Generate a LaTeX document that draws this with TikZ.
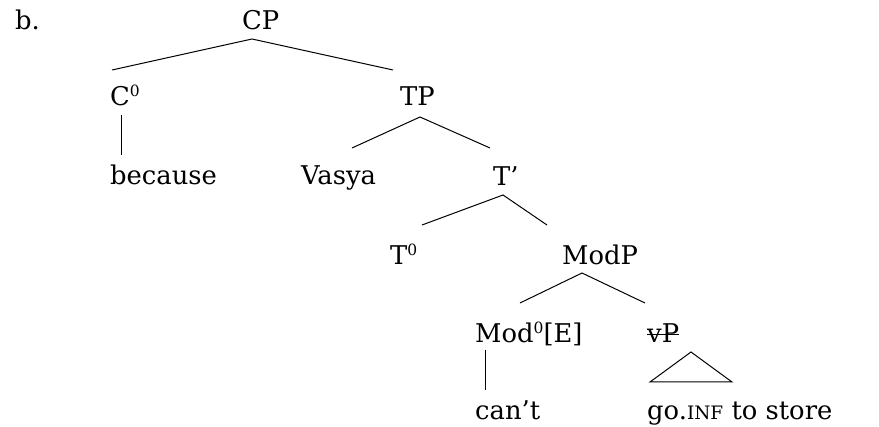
\documentclass[tikz,border=0pt]{standalone}
\usepackage{fontspec}
\setmainfont{DejaVu Serif}
\newcommand{\zsup}[1]{\raisebox{0.36em}{\fontsize{15.5}{15.5}\selectfont #1}}
\newcommand{\glosscaps}[1]{{\fontsize{18.5}{18.5}\selectfont #1}}
\begin{document}
\begin{tikzpicture}[x=1pt,y=-1pt,
  lab/.style={anchor=base west,inner sep=0pt,font=\fontsize{25.8}{25.8}\selectfont},
  branch/.style={line width=1pt,line join=miter}]
\useasboundingbox (0,0) rectangle (879,427);
% labels
\node[lab] (ex)    at (15,30)  {b.};
\node[lab] (cp)    at (242,30) {CP};
\node[lab] (c0)    at (110,106) {C\zsup{0}};
\node[lab] (tp)    at (400,106) {TP};
\node[lab] (bec)   at (110,185) {because};
\node[lab] (vasya) at (301,185) {Vasya};
\node[lab] (tbar)  at (493,186) {T’};
\node[lab] (t0)    at (390,265) {T\zsup{0}};
\node[lab] (modp)  at (562,265) {ModP};
\node[lab] (mod0)  at (475,343) {Mod\zsup{0}[E]};
\node[lab] (vp)    at (647,343) {vP};
\node[lab] (cant)  at (475,420) {can’t};
\node[lab] (go)    at (647,420) {go.\glosscaps{INF} to store};
% branch end points
\coordinate (cpA) at (252,39);  \coordinate (cpL) at (112,70);  \coordinate (cpR) at (393,70);
\coordinate (c0A) at (121,115); \coordinate (c0B) at (121,155);
\coordinate (tpA) at (420,117); \coordinate (tpL) at (352,148); \coordinate (tpR) at (490,148);
\coordinate (tbA) at (503,195); \coordinate (tbL) at (422,225); \coordinate (tbR) at (547,225);
\coordinate (mpA) at (582,273); \coordinate (mpL) at (520,303); \coordinate (mpR) at (645,303);
\coordinate (mdA) at (485,350); \coordinate (mdB) at (485,390);
\coordinate (trA) at (691,352); \coordinate (trL) at (650,382); \coordinate (trR) at (732,382);
% branches
\draw[branch] (cpL) -- (cpA) -- (cpR);
\draw[branch] (c0A) -- (c0B);
\draw[branch] (tpL) -- (tpA) -- (tpR);
\draw[branch] (tbL) -- (tbA) -- (tbR);
\draw[branch] (mpL) -- (mpA) -- (mpR);
\draw[branch] (mdA) -- (mdB);
\draw[branch] (trA) -- (trL) -- (trR) -- cycle;
% struck-out vP
\draw[line width=1pt] ([yshift=8pt]vp.base west) -- ([yshift=8pt]vp.base east);
\end{tikzpicture}
\end{document}
